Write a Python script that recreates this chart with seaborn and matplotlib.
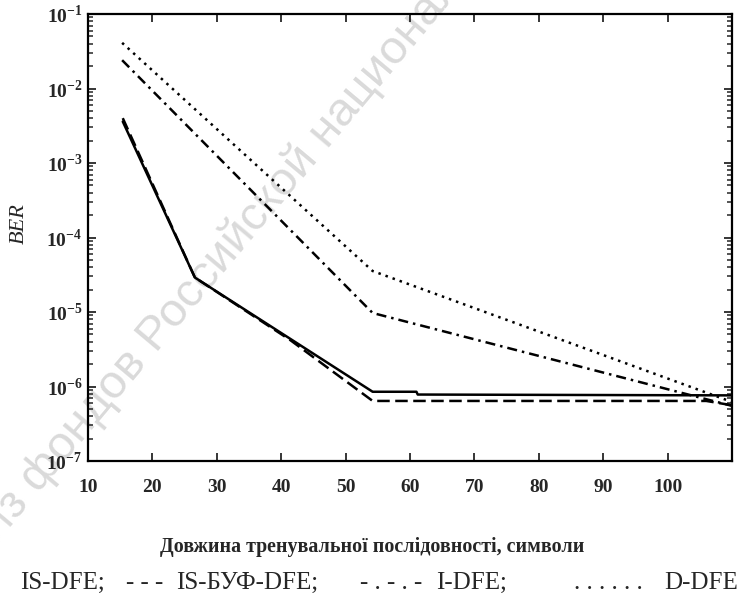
import numpy as np
import pandas as pd
import seaborn as sns
import matplotlib.pyplot as plt
from matplotlib.ticker import LogLocator, FixedLocator, FuncFormatter, NullFormatter

# Дані (x — довжина тренувальної послідовності, y — BER)
is_dfe_x = [15.4, 26.6, 54.2, 61.0, 61.2, 110.0]
is_dfe_ber = [3.6e-3, 2.9e-5, 8.5e-7, 8.5e-7, 7.8e-7, 7.6e-7]

is_buf_x = [15.4, 26.6, 41.4, 54.2, 106.0, 110.0]
is_buf_ber = [4.0e-3, 2.9e-5, 4.2e-6, 6.4e-7, 6.4e-7, 5.6e-7]

i_dfe_x = [15.3, 54.2, 110.0]
i_dfe_ber = [2.4e-2, 9.7e-6, 5.5e-7]

d_dfe_x = [15.3, 54.2, 110.0]
d_dfe_ber = [4.1e-2, 3.55e-5, 6.2e-7]

methods = ['IS-DFE', 'IS-БУФ-DFE', 'I-DFE', 'D-DFE']
x_ticks = [10, 20, 30, 40, 50, 60, 70, 80, 90, 100]
legend_parts = ['IS-DFE;', '- - -', 'IS-БУФ-DFE;', '- . - . -', 'I-DFE;', '. . . . . .', 'D-DFE']
legend_px = [20, 126, 176, 360, 436, 574, 664]
x_title = 'Довжина тренувальної послідовності, символи'
watermark = 'Из фондов Российской национальной библиотеки'

frames = []
for name, xs, ys in zip(methods,
                        [is_dfe_x, is_buf_x, i_dfe_x, d_dfe_x],
                        [is_dfe_ber, is_buf_ber, i_dfe_ber, d_dfe_ber]):
    frames.append(pd.DataFrame({'x': xs, 'ber': ys, 'method': name}))
df = pd.concat(frames, ignore_index=True)

sns.set_style('ticks')
plt.rcParams['font.family'] = ['Liberation Serif', 'DejaVu Serif']
plt.rcParams['mathtext.fontset'] = 'custom'
plt.rcParams['mathtext.rm'] = 'Liberation Serif:bold'
plt.rcParams['mathtext.bf'] = 'Liberation Serif:bold'

fig = plt.figure(figsize=(7.45, 6.01), dpi=100)
ax = fig.add_axes([88 / 745, 1 - 461 / 601, (732 - 88) / 745, (461 - 14) / 601])
ax.patch.set_alpha(0)

# водяний знак скану
fig.text(-0.008, 0.09, watermark, rotation=50, rotation_mode='anchor',
         ha='left', va='baseline', fontsize=34, color='#dadada',
         family='Liberation Sans', zorder=-5)

dashes = {'IS-DFE': '', 'IS-БУФ-DFE': (5, 2.2), 'I-DFE': (4, 2, 1, 2), 'D-DFE': (1, 2)}
sns.lineplot(data=df, x='x', y='ber', style='method', dashes=dashes,
             color='black', linewidth=1.8, estimator=None, sort=False,
             legend=False, ax=ax)

ax.set_yscale('log')
ax.set_xlim(10, 110)
ax.set_ylim(1e-7, 1e-1)

ax.xaxis.set_major_locator(FixedLocator(x_ticks))
ax.yaxis.set_major_locator(LogLocator(base=10, numticks=10))
ax.yaxis.set_minor_locator(LogLocator(base=10, subs=np.arange(2, 10), numticks=20))
ax.yaxis.set_minor_formatter(NullFormatter())
ax.yaxis.set_major_formatter(FuncFormatter(lambda v, p: r'$10^{%d}$' % round(np.log10(v))))

ax.tick_params(axis='both', which='both', direction='in', top=True, right=True)
ax.tick_params(axis='x', which='major', length=6, width=1.3, pad=13)
ax.tick_params(axis='y', which='major', length=6, width=1.3, pad=4)
ax.tick_params(axis='y', which='minor', length=3.5, width=1.1)
for lab in ax.get_xticklabels():
    lab.set_fontweight('bold')
    lab.set_fontsize(14)
for lab in ax.get_yticklabels():
    lab.set_fontsize(14)

for sp in ax.spines.values():
    sp.set_linewidth(1.6)
    sp.set_color('black')

ax.set_ylabel('BER', fontstyle='italic', fontsize=16, va='center')
ax.yaxis.set_label_coords(-0.107, 0.532)
ax.set_xlabel(x_title, fontweight='bold', fontsize=14.4, va='center')
ax.xaxis.set_label_coords(0.441, -0.192)

for part, px in zip(legend_parts, legend_px):
    fig.text(px / 745, 1 - 583 / 601, part, ha='left', va='center', fontsize=18)

fig.savefig('out.png', dpi=100)
